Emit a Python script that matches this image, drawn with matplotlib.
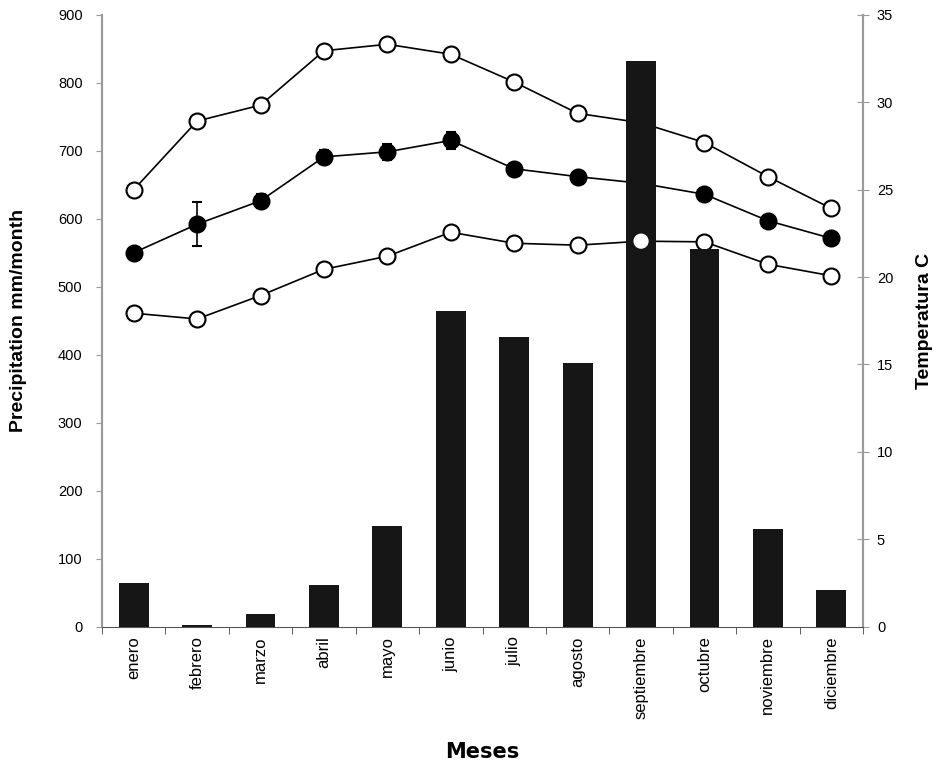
import numpy as np
import matplotlib.pyplot as plt

plt.rcParams['font.family'] = ['Liberation Sans', 'DejaVu Sans']

# Meses
meses = ['enero', 'febrero', 'marzo', 'abril', 'mayo', 'junio', 'julio',
         'agosto', 'septiembre', 'octubre', 'noviembre', 'diciembre']

# Precipitacion mm/month
precip = [65, 3, 18, 61, 148, 464, 426, 388, 832, 555, 144, 54]

# Temperatura C: maxima, media, minima
t_max = [24.99, 28.92, 29.83, 32.94, 33.31, 32.74, 31.15, 29.36, 28.82, 27.69, 25.74, 23.92]
t_med = [21.39, 23.02, 24.36, 26.87, 27.16, 27.81, 26.19, 25.74, 25.36, 24.73, 23.22, 22.21]
t_med_err = [0.25, 1.25, 0.4, 0.4, 0.45, 0.5, 0.2, 0.2, 0.2, 0.2, 0.25, 0.2]
t_min = [17.93, 17.60, 18.94, 20.44, 21.19, 22.56, 21.93, 21.82, 22.05, 22.01, 20.73, 20.07]

x = np.arange(len(meses))
gray = '#9a9a9a'

fig = plt.figure(figsize=(9.34, 7.67), dpi=100)
ax = fig.add_axes([0.1092, 0.1829, 0.924 - 0.1092, 0.9808 - 0.1829])
ax2 = ax.twinx()

# lines drawn under the bars
ax.set_zorder(2)
ax2.set_zorder(1)
ax.patch.set_visible(False)

ax.bar(x, precip, width=0.47, color='#161616', zorder=3)

mk = dict(marker='o', markersize=11.5, markeredgewidth=1.5, color='black',
          linewidth=1.2, markeredgecolor='black')
ax2.plot(x, t_max, markerfacecolor='white', **mk)
ax2.errorbar(x, t_med, yerr=t_med_err, markerfacecolor='black',
             capsize=3.5, elinewidth=1.2, capthick=1.2, **mk)
ax2.plot(x, t_min, markerfacecolor='white', **mk)
# open circle of septiembre shows over its bar
ax.scatter(x[8:9], np.array(t_min[8:9]) * 900 / 35, s=120, color='white',
           edgecolors='none', zorder=4)

ax.set_xlim(-0.5, 11.5)
ax.set_ylim(0, 900)
ax2.set_ylim(0, 35)
ax.set_yticks(range(0, 901, 100))
ax2.set_yticks(range(0, 36, 5))

ax.set_xticks(x)
ax.set_xticklabels(meses, rotation=90, fontsize=12)
ax.set_xticks(np.arange(-0.5, 12, 1), minor=True)
ax.tick_params(axis='x', which='major', length=0, pad=7)
ax.tick_params(axis='x', which='minor', length=5, direction='out', color='#444444')
ax.tick_params(axis='y', length=4, direction='out', color=gray, labelsize=10.5, pad=10)
ax2.tick_params(axis='y', length=8, direction='inout', color=gray, labelsize=10.5, pad=6)

for a in (ax, ax2):
    a.spines['top'].set_visible(False)
    a.spines['left'].set_color(gray)
    a.spines['right'].set_color(gray)
    a.spines['left'].set_linewidth(1.5)
    a.spines['right'].set_linewidth(1.5)
ax.spines['bottom'].set_color('#555555')
ax2.spines['bottom'].set_visible(False)

ax.set_ylabel('Precipitation mm/month', fontsize=14, fontweight='bold', labelpad=22)
ax2.set_ylabel('Temperatura C', fontsize=14, fontweight='bold', labelpad=16)
ax.set_xlabel('Meses', fontsize=15, fontweight='bold', family='DejaVu Sans', labelpad=17)

fig.savefig('out.png', dpi=100)
